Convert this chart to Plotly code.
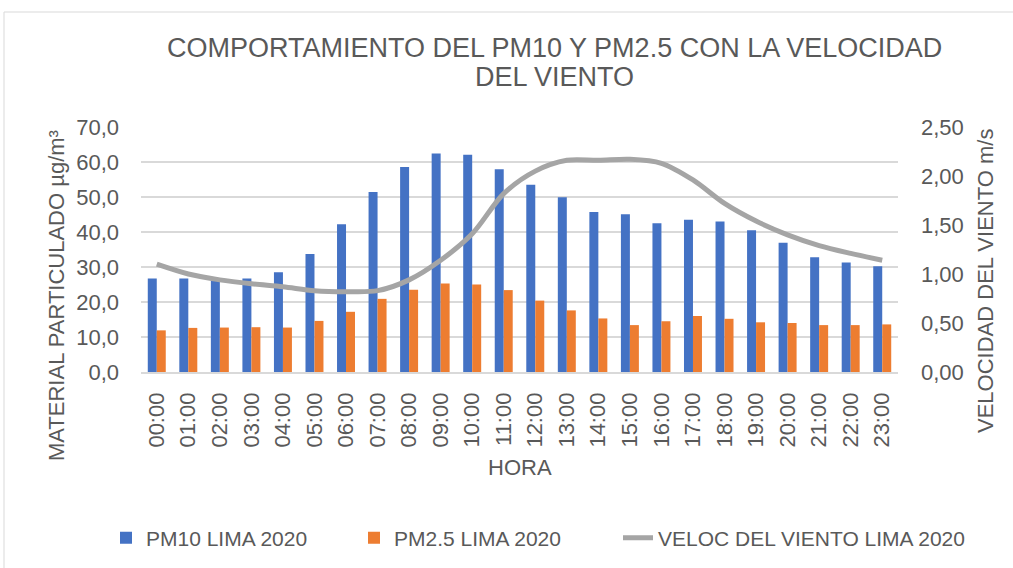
import plotly.graph_objects as go

horas = [f"{h:02d}:00" for h in range(24)]
pm10 = [26.7, 26.7, 26.0, 26.7, 28.5, 33.7, 42.2, 51.4, 58.6, 62.4, 62.1, 57.9,
        53.5, 49.9, 45.7, 45.1, 42.5, 43.5, 43.0, 40.5, 36.9, 32.8, 31.3, 30.2]
pm25 = [11.9, 12.6, 12.7, 12.8, 12.7, 14.6, 17.2, 20.9, 23.5, 25.3, 25.0, 23.4,
        20.4, 17.6, 15.3, 13.4, 14.5, 16.0, 15.2, 14.2, 14.0, 13.4, 13.4, 13.6]
viento = [1.10, 1.00, 0.94, 0.90, 0.87, 0.83, 0.82, 0.83, 0.94, 1.14, 1.41, 1.82,
          2.05, 2.16, 2.16, 2.17, 2.13, 1.96, 1.72, 1.54, 1.40, 1.29, 1.21, 1.14]

font = "Liberation Sans, Arial, sans-serif"
grey = "#595959"
FS = 22

W, H = 1013, 568
L, R, T, B = 141, 115, 127, 196
pw, ph = W - L - R, H - T - B

def px_x(x):
    return (x - L) / pw

def px_y(y):
    return (H - B - y) / ph

fig = go.Figure()
fig.add_trace(go.Bar(x=horas, y=pm10, name="PM10 LIMA 2020", marker_color="#4472C4",
                     marker_line_width=0, legend="legend", showlegend=True))
fig.add_trace(go.Bar(x=horas, y=pm25, name="PM2.5 LIMA 2020", marker_color="#ED7D31",
                     marker_line_width=0, legend="legend2", showlegend=True))
fig.add_trace(go.Scatter(x=horas, y=viento, name="VELOC DEL VIENTO LIMA 2020", yaxis="y2",
                         mode="lines", legend="legend3", showlegend=True,
                         line=dict(color="#A5A5A5", width=5, shape="spline", smoothing=0.9)))

ann = dict(showarrow=False, xref="paper", yref="paper", font=dict(family=font, color=grey, size=FS))
annotations = [
    dict(ann, text="COMPORTAMIENTO DEL PM10 Y PM2.5 CON LA VELOCIDAD", x=px_x(554), y=px_y(48),
         xanchor="center", yanchor="middle", font=dict(family=font, color=grey, size=27)),
    dict(ann, text="DEL VIENTO", x=px_x(554), y=px_y(77),
         xanchor="center", yanchor="middle", font=dict(family=font, color=grey, size=27)),
    dict(ann, text="HORA", x=px_x(519.5), y=px_y(467), xanchor="center", yanchor="middle"),
    dict(ann, text="MATERIAL PARTICULADO µg/m³", x=px_x(56), y=px_y(296), textangle=-90,
         xanchor="center", yanchor="middle"),
    dict(ann, text="VELOCIDAD DEL VIENTO m/s", x=px_x(985), y=px_y(281), textangle=-90,
         xanchor="center", yanchor="middle"),
]

def leg(x_px):
    return dict(orientation="h", xref="paper", yref="paper", visible=True,
                x=px_x(x_px), xanchor="left", y=px_y(538), yanchor="middle",
                font=dict(size=21, family=font, color=grey), bgcolor="rgba(0,0,0,0)")

fig.update_layout(
    width=W, height=H,
    showlegend=True,
    margin=dict(l=L, r=R, t=T, b=B, autoexpand=False),
    paper_bgcolor="white", plot_bgcolor="white",
    separators=",.",
    font=dict(family=font, color=grey, size=FS),
    barmode="group", bargap=0.43, bargroupgap=0,
    xaxis=dict(tickangle=-90, showgrid=False, showline=True, linecolor="#D9D9D9",
               linewidth=1.5, ticks="", tickfont=dict(size=FS), automargin=False,
               ticklabelstandoff=10),
    yaxis=dict(range=[0, 70], dtick=10, tickformat=".1f", gridcolor="#D9D9D9",
               gridwidth=1.5, zeroline=False, ticks="", tickfont=dict(size=FS),
               automargin=False, ticklabelstandoff=21),
    yaxis2=dict(range=[0, 2.5], dtick=0.5, tickformat=".2f", overlaying="y", side="right",
                showgrid=False, zeroline=False, ticks="", tickfont=dict(size=FS),
                automargin=False, ticklabelstandoff=22),
    legend=leg(106),
    legend2=leg(354),
    legend3=leg(618),
    annotations=annotations,
    shapes=[dict(type="rect", xref="paper", yref="paper", x0=px_x(4), x1=px_x(1030),
                 y0=px_y(600), y1=px_y(12),
                 line=dict(color="#D9D9D9", width=1), fillcolor="rgba(0,0,0,0)", layer="below")],
)

fig.write_html("out.html", config={"displayModeBar": False},
               post_script="document.body.style.margin='0';")
